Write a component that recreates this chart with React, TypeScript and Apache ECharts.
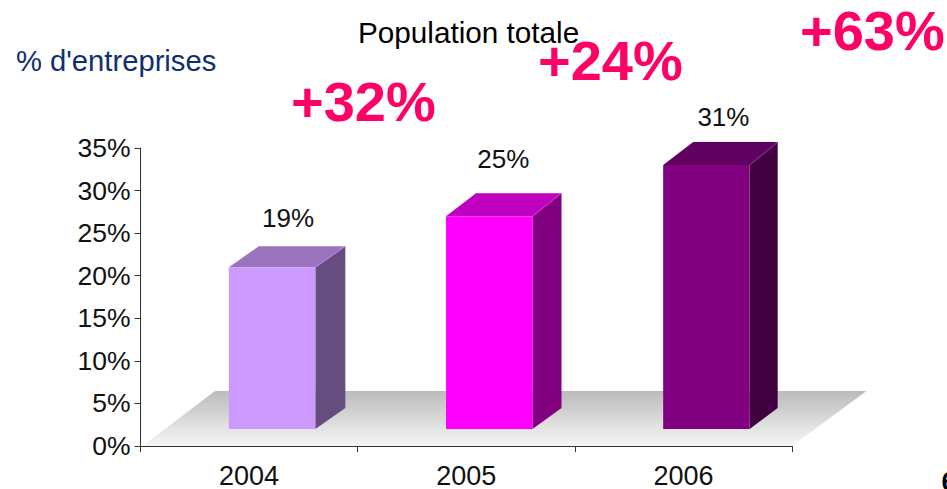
import React, { useEffect, useRef } from "react";
import * as echarts from "echarts";

const categories = ["2004", "2005", "2006"];
const values = [19, 25, 31];
const valueLabels = ["19%", "25%", "31%"];
const growthLabels = ["+32%", "+24%", "+63%"];
const frontColors = ["#CC99FF", "#FF00FF", "#800080"];
const topColors = ["#9C73BF", "#BF00BF", "#600060"];
const sideColors = ["#664D80", "#800080", "#400040"];
const edgeColors = ["#B48CE0", "#D040D0", "#8A3A8A"];
const labelGaps = [28, 34, 25];
const labelShifts = [1, -1, 2];
const depthXs = [30, 29, 28];
const depthYs = [21, 23, 23];

const FONT = '"Liberation Sans", Arial, sans-serif';
const BAR_W = 86.5;
const BAR_SHIFT = 23;
const BASE_DEPTH_Y = 21;
const FLOOR_LIFT = 17;

export default function App() {
  const ref = useRef<HTMLDivElement>(null);
  useEffect(() => {
    const chart = echarts.init(ref.current!, null, { renderer: "svg" });
    chart.setOption({
      animation: false,
      backgroundColor: "#fff",
      grid: { left: 140.5, right: 155, top: 148, bottom: 39 },
      xAxis: {
        type: "category",
        data: categories,
        z: 5,
        boundaryGap: true,
        axisLine: { lineStyle: { color: "#333", width: 1 } },
        axisTick: { show: true, alignWithLabel: false, length: 6, lineStyle: { color: "#333" } },
        axisLabel: { color: "#111", fontSize: 27, fontFamily: FONT, margin: 16 },
      },
      yAxis: {
        type: "value",
        min: 0,
        max: 35,
        interval: 5,
        z: 5,
        splitLine: { show: false },
        axisLine: { show: true, lineStyle: { color: "#333", width: 1 } },
        axisTick: { show: true, length: 6, lineStyle: { color: "#333" } },
        axisLabel: { formatter: "{value}%", color: "#111", fontSize: 26.5, fontFamily: FONT, margin: 10 },
      },
      series: [
        {
          type: "custom",
          z: 1,
          silent: true,
          data: [[0, 0]],
          renderItem: (params: any) => {
            const c = params.coordSys;
            const bottom = c.y + c.height;
            const right = c.x + c.width;
            return {
              type: "polygon",
              shape: {
                points: [
                  [c.x + 2, bottom],
                  [c.x + 74.5, bottom - 55],
                  [right + 74.5, bottom - 55],
                  [right, bottom],
                ],
              },
              style: {
                fill: new echarts.graphic.LinearGradient(0, 0, 0, 1, [
                  { offset: 0, color: "#BBBBBB" },
                  { offset: 1, color: "#F6F6F6" },
                ]),
              },
            };
          },
        },
        {
          type: "custom",
          z: 3,
          silent: true,
          data: values.map((v, i) => [i, v]),
          encode: { x: 0, y: 1 },
          renderItem: (params: any, api: any) => {
            const i = params.dataIndex;
            const base = api.coord([api.value(0), 0]);
            const head = api.coord([api.value(0), api.value(1)]);
            const x0 = base[0] + BAR_SHIFT - BAR_W / 2;
            const x1 = x0 + BAR_W;
            const yb = base[1] - FLOOR_LIFT;
            const yt = head[1] - FLOOR_LIFT;
            const dx = depthXs[i];
            const dy = depthYs[i];
            return {
              type: "group",
              children: [
                {
                  type: "polygon",
                  shape: { points: [[x1, yb], [x1 + dx, yb - BASE_DEPTH_Y], [x1 + dx, yt - dy], [x1, yt]] },
                  style: { fill: sideColors[i] },
                },
                {
                  type: "polygon",
                  shape: { points: [[x0, yt], [x1, yt], [x1 + dx, yt - dy], [x0 + 30, yt - dy]] },
                  style: { fill: topColors[i] },
                },
                { type: "rect", shape: { x: x0, y: yt, width: BAR_W, height: yb - yt }, style: { fill: frontColors[i] } },
                {
                  type: "line",
                  shape: { x1, y1: yt, x2: x1 + dx, y2: yt - dy },
                  style: { stroke: edgeColors[i], lineWidth: 1 },
                },
                {
                  type: "text",
                  style: {
                    text: valueLabels[i],
                    x: (x0 + x1 + 30) / 2 + labelShifts[i],
                    y: yt - dy - labelGaps[i],
                    align: "center",
                    verticalAlign: "middle",
                    fill: "#111",
                    font: `26px ${FONT}`,
                  },
                },
              ],
            };
          },
        },
      ],
      graphic: [
        { type: "text", z: 1, style: { text: "Population totale", x: 358, y: 32, verticalAlign: "middle", fill: "#000", font: `29.7px ${FONT}` } },
        { type: "text", style: { text: "% d'entreprises", x: 16, y: 61, verticalAlign: "middle", fill: "#0F2F6F", font: `29.2px ${FONT}` } },
        { type: "text", z: 10, style: { text: growthLabels[0], x: 291, y: 101, verticalAlign: "middle", fill: "#FF0066", font: `bold 56px ${FONT}` } },
        { type: "text", z: 10, style: { text: growthLabels[1], x: 538, y: 60, verticalAlign: "middle", fill: "#FF0066", font: `bold 56px ${FONT}` } },
        { type: "text", z: 10, style: { text: growthLabels[2], x: 800, y: 30, verticalAlign: "middle", fill: "#FF0066", font: `bold 56px ${FONT}` } },
        { type: "text", style: { text: "6", x: 941.5, y: 482, verticalAlign: "middle", fill: "#000", font: `bold 27px ${FONT}` } },
      ],
    });
    return () => chart.dispose();
  }, []);
  return <div ref={ref} style={{ position: "fixed", left: 0, top: 0, width: 947, height: 489 }} />;
}
